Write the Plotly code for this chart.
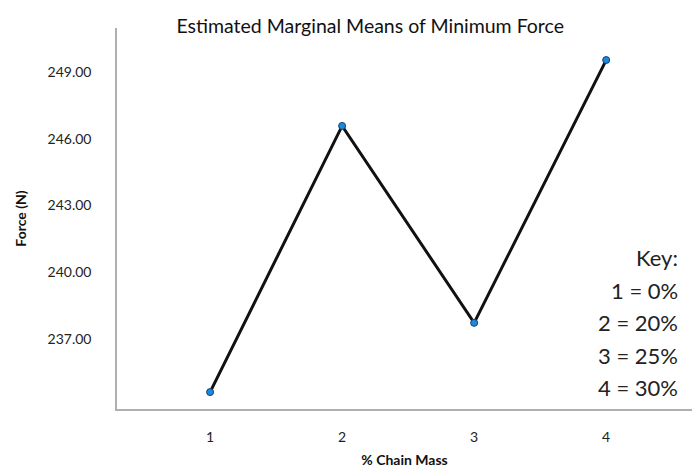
import plotly.graph_objects as go

categories = [1, 2, 3, 4]
force_means = [234.62, 246.58, 237.73, 249.54]
y_ticks = [237, 240, 243, 246, 249]
y_tick_labels = ["237.00", "240.00", "243.00", "246.00", "249.00"]
key_lines = ["Key:", "1 = 0%", "2 = 20%", "3 = 25%", "4 = 30%"]

FONT = "Lato"

fig = go.Figure()
fig.add_trace(go.Scatter(
    x=categories, y=force_means, mode="lines+markers",
    line=dict(color="#111111", width=3),
    marker=dict(color="#1a8ae0", size=7, line=dict(color="#1d3f66", width=1)),
    showlegend=False, hoverinfo="skip",
))

fig.update_layout(
    width=692, height=469,
    margin=dict(l=117, r=0, t=28, b=60),
    paper_bgcolor="white", plot_bgcolor="white",
    font=dict(family=FONT, color="#222222"),
    title=dict(text="Estimated Marginal Means of Minimum Force", x=0.535, xanchor="center",
               y=1 - 26 / 469, yanchor="middle", font=dict(size=19.5, family=FONT, color="#111111")),
)
fig.update_xaxes(
    range=[0.295, 4.65], tickvals=categories, ticktext=[str(c) for c in categories],
    showgrid=False, zeroline=False, showline=True, linecolor="#b0b0b0", linewidth=1.5,
    ticks="", ticklabelstandoff=14, tickfont=dict(size=14, family=FONT, color="#222222"),
    title=dict(text="<b>% Chain Mass</b>", font=dict(size=14, family=FONT, color="#111111"), standoff=12),
)
fig.update_yaxes(
    range=[233.86, 250.98], tickvals=y_ticks, ticktext=y_tick_labels,
    showgrid=False, zeroline=False, showline=True, linecolor="#b0b0b0", linewidth=1.5,
    ticks="", ticklabelstandoff=21, tickfont=dict(size=14, family=FONT, color="#222222"),
    title=dict(text="<b>Force (N)</b>", font=dict(size=14, family=FONT, color="#111111"), standoff=18),
)

key_y = [257, 290, 322, 355, 387]
for line, ypix in zip(key_lines, key_y):
    fig.add_annotation(
        text=line, xref="paper", yref="paper", x=(680 - 117) / 575,
        y=(409 - ypix) / 381, xanchor="right", yanchor="middle", align="right",
        showarrow=False, font=dict(size=22, family=FONT, color="#222222"),
    )

fig.write_html("out.html", config={"displayModeBar": False},
               post_script="document.body.style.margin='0';document.body.style.overflow='hidden';")
